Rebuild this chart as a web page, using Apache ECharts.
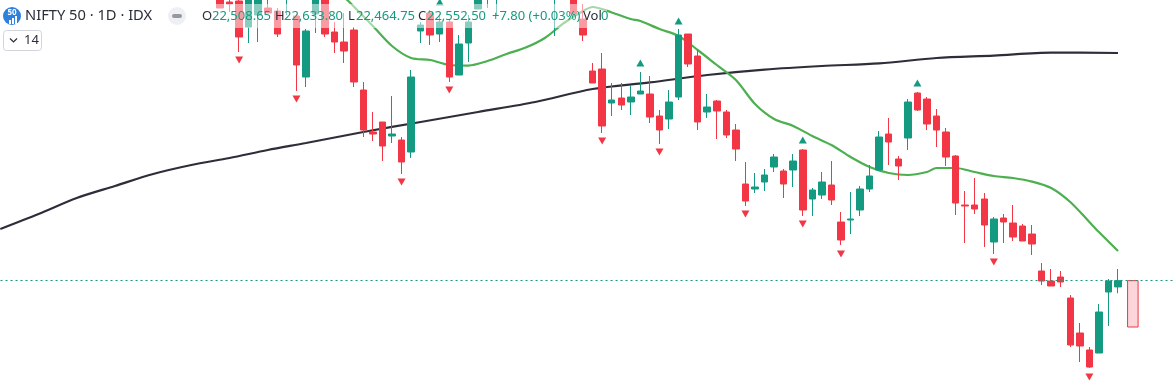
<!DOCTYPE html>
<html>
<head>
<meta charset="utf-8">
<style>html,body{margin:0;padding:0;background:#fff}#c{width:1174px;height:389px}</style>
<script src="https://cdn.jsdelivr.net/npm/echarts@6/dist/echarts.min.js"></script>
</head>
<body>
<div id="c"></div>
<script>
// Sessions before the first candle that reaches into the frame
const leadingSessions = 23;
const trailingSessions = 6;
const opens = [24587,24503,24510,24328,24412,24461,24440,24545,24405,23978,24419,24559,24293,24223,24307,23887,23593,23663,23565,23537,23453,24300,24426,24279,24363,23992,24216,24454,24545,24531,24573,24671,24587,24699,24601,24552,24685,24559,24384,24020,24034,23796,23831,23803,23859,23859,23705,23684,23838,24279,24125,23733,23810,23733,23607,23229,23194,23243,23348,23320,23327,23467,23124,23152,23222,22963,22977,23047,23194,23327,23579,23404,23551,23866,23824,23705,23593,23425,23082,23082,23124,22823,22991,22956,22935,22879,22620,22550,22578,22431,22186,22067,22046,22473,22508.65];
const closes = [24461,24489,24258,24573,24559,24426,24279,24615,24062,24300,24573,24279,24223,24160,23943,23607,23579,23495,23579,23383,23978,24342,24272,24363,23978,24209,24363,24552,24615,24601,24657,24587,24685,24601,24713,24657,24573,24419,24272,23936,23635,23817,23782,23838,23880,23698,23607,23803,24272,24069,23663,23768,23740,23572,23474,23110,23208,23292,23418,23229,23390,23047,23187,23243,23117,22837,22984,23194,23285,23558,23523,23355,23803,23747,23649,23607,23418,23096,23075,23054,22942,22984,22963,22858,22830,22809,22550,22515,22543,22102,22095,21948,22333,22550,22552.5];
const lows = [24461,24433,24153,24216,24223,24426,24258,24412,23880,23908,24286,24258,24146,24076,23908,23558,23530,23390,23516,23299,23411,24216,24202,24223,23943,23992,24083,24454,24461,24412,24545,24559,24559,24559,24552,24265,24545,24419,24230,23936,23586,23705,23747,23712,23859,23656,23509,23614,23817,24048,23607,23691,23544,23551,23390,23075,23166,23180,23313,23131,23208,23005,23005,23124,23082,22802,22879,23005,23173,23320,23362,23257,23467,23740,23607,23488,23355,23012,22816,23019,22788,22739,22816,22830,22830,22732,22522,22515,22508,22088,21983,21941,22046,22235,22464.75];
const highs = [24615,24538,24517,24601,24587,24559,24461,24629,24419,24314,24601,24573,24363,24426,24328,23943,23733,23663,23845,23558,24027,24363,24447,24419,24377,24272,24412,24587,24629,24629,24699,24713,24727,24727,24741,24685,24713,24587,24489,24076,24146,23936,23936,23922,24013,23985,23747,23887,24314,24279,24167,23859,23817,23747,23649,23383,23306,23334,23439,23334,23439,23474,23201,23313,23390,23033,23173,23215,23362,23600,23691,23425,23824,23873,23838,23754,23621,23432,23180,23271,23166,22998,23019,23082,22949,22942,22676,22634,22620,22452,22256,22088,22389,22564,22633.8];
// Long moving average: [session, level]
const slowAverage = [[0,22914],[4,23019],[8,23131],[12,23215],[16,23299],[20,23362],[24,23411],[28,23467],[32,23516],[38,23593],[44,23663],[50,23733],[56,23803],[62,23894],[68,23940],[74,23992],[80,24030],[86,24055],[92,24073],[98,24111],[104,24128],[110,24149],[117,24146]];
// Short moving average: [session, level]
const fastAverage = [[34,24671],[36,24538],[37,24472],[39,24335],[41,24195],[43,24111],[45,24097],[47,24062],[49,24058],[51,24090],[53,24139],[55,24184],[57,24251],[59,24356],[61,24440],[62,24468],[64,24430],[66,24384],[67,24370],[69,24314],[71,24265],[73,24167],[75,24062],[77,23957],[79,23789],[81,23684],[83,23635],[85,23565],[87,23502],[89,23418],[91,23348],[93,23306],[95,23292],[97,23313],[98,23341],[100,23341],[102,23313],[104,23285],[106,23271],[108,23246],[110,23201],[112,23103],[114,22963],[115,22893],[117,22760]];
const swingHighs = [[46,24503],[67,24076],[71,24370],[84,23537],[96,23936]];
const swingLows = [[25,24097],[31,23824],[42,23243],[47,23887],[63,23530],[69,23453],[78,23019],[84,22949],[88,22739],[104,22683],[114,21878]];
const lastClose = 22552.5;
// Projected box: [start session, end session, top, bottom]
const projection = [[118,119.1,22552.5,22228]];
const titleText = 'NIFTY 50 · 1D · IDX';
const ohlcLabels = [['O',202],['H',275],['L',348],['C',418]];
const ohlcValues = [['22,508.65',212],['22,633.80',284],['22,464.75',356],['22,552.50',427],['+7.80 (+0.03%)',492]];

const RED = '#F23645', GREEN = '#149a80', INK = '#2a2e39';
const total = leadingSessions + opens.length + trailingSessions;
const categories = [];
for (let i = 0; i < total; i++) categories.push('S' + i);
const candles = [];
for (let i = 0; i < leadingSessions; i++) candles.push(['-','-','-','-']);
opens.forEach((o, i) => candles.push([o, closes[i], lows[i], highs[i]]));

const font = '"Noto Sans", Roboto, sans-serif';
const txt = (x, y, text, fill, size, extra) => ({type:'text', z:30, x, y,
  style:Object.assign({text, fill, font:size + 'px ' + font, textVerticalAlign:'middle'}, extra||{})});

const chart = echarts.init(document.getElementById('c'), null, {renderer:'canvas'});
chart.setOption({
  animation:false,
  backgroundColor:'#ffffff',
  grid:{left:-4.48, top:0, width:1184.6, height:389, containLabel:false, outerBoundsMode:'none'},
  xAxis:[
    {type:'category', data:categories, show:false, boundaryGap:true},
    {type:'value', min:-0.5, max:total-0.5, show:false}
  ],
  yAxis:{type:'value', min:21794, max:24517, show:false, scale:true},
  series:[
    {type:'line', data:slowAverage, smooth:0.3, showSymbol:false, symbol:'none', z:3,
     lineStyle:{color:'#2e2e3a', width:2.2}},
    {type:'line', data:fastAverage, smooth:0.3, showSymbol:false, symbol:'none', z:3,
     lineStyle:{color:'#4caf50', width:2.2}},
    {type:'candlestick', data:candles, barWidth:7, z:4,
     itemStyle:{color:GREEN, color0:RED, borderColor:GREEN, borderColor0:RED, borderWidth:1},
     markLine:{silent:true, symbol:'none', label:{show:false},
       lineStyle:{color:GREEN, type:[2,3], width:1, opacity:1},
       data:[{yAxis:lastClose}]}},
    {type:'scatter', data:swingHighs, symbol:'triangle', symbolSize:[8,7], z:5,
     itemStyle:{color:GREEN, opacity:1}},
    {type:'scatter', data:swingLows, symbol:'triangle', symbolRotate:180, symbolSize:[8,7], z:5,
     itemStyle:{color:RED, opacity:1}},
    {type:'custom', xAxisIndex:1, data:projection, z:2,
     encode:{x:[0,1], y:[2,3]},
     renderItem:(p, api) => {
       const a = api.coord([api.value(0), api.value(2)]);
       const b = api.coord([api.value(1), api.value(3)]);
       return {type:'rect', shape:{x:a[0], y:a[1], width:b[0]-a[0], height:b[1]-a[1]},
         style:{fill:'#fbd5d9', stroke:RED, lineWidth:1}};
     }}
  ],
  graphic:[
    {type:'rect', z:20, shape:{x:0, y:4, width:607, height:24}, style:{fill:'rgba(255,255,255,0.5)'}},
    {type:'circle', z:30, shape:{cx:12, cy:16, r:9}, style:{fill:'#2f7fdc'}},
    txt(12, 12.5, '50', '#ffffff', 8, {textAlign:'center', font:'bold 8px ' + font}),
    {type:'rect', z:31, shape:{x:9, y:20, width:2, height:4}, style:{fill:'#ffffff'}},
    {type:'rect', z:31, shape:{x:12, y:18, width:2, height:6}, style:{fill:'#ffffff'}},
    {type:'rect', z:31, shape:{x:15, y:16, width:2, height:8}, style:{fill:'#ffffff'}},
    txt(25, 16, titleText, INK, 14.7),
    {type:'circle', z:30, shape:{cx:177, cy:16, r:9}, style:{fill:'#eef0f3'}},
    {type:'rect', z:31, shape:{x:172, y:14, width:10, height:4, r:2}, style:{fill:'#9598a1'}},
    ...ohlcLabels.map(l => txt(l[1], 16, l[0], INK, 13)),
    ...ohlcValues.map(l => txt(l[1], 16, l[0], GREEN, 13)),
    txt(583, 16, 'Vol', INK, 13),
    txt(601, 16, '0', GREEN, 13),
    {type:'rect', z:30, shape:{x:3.5, y:30.5, width:38, height:20, r:3}, style:{fill:'#ffffff', stroke:'#d1d4dc', lineWidth:1}},
    {type:'polyline', z:31, shape:{points:[[10,38.5],[13.5,42],[17,38.5]]}, style:{fill:'none', stroke:INK, lineWidth:1.2}},
    txt(24, 40.5, '14', INK, 13)
  ]
});
</script>
</body>
</html>
